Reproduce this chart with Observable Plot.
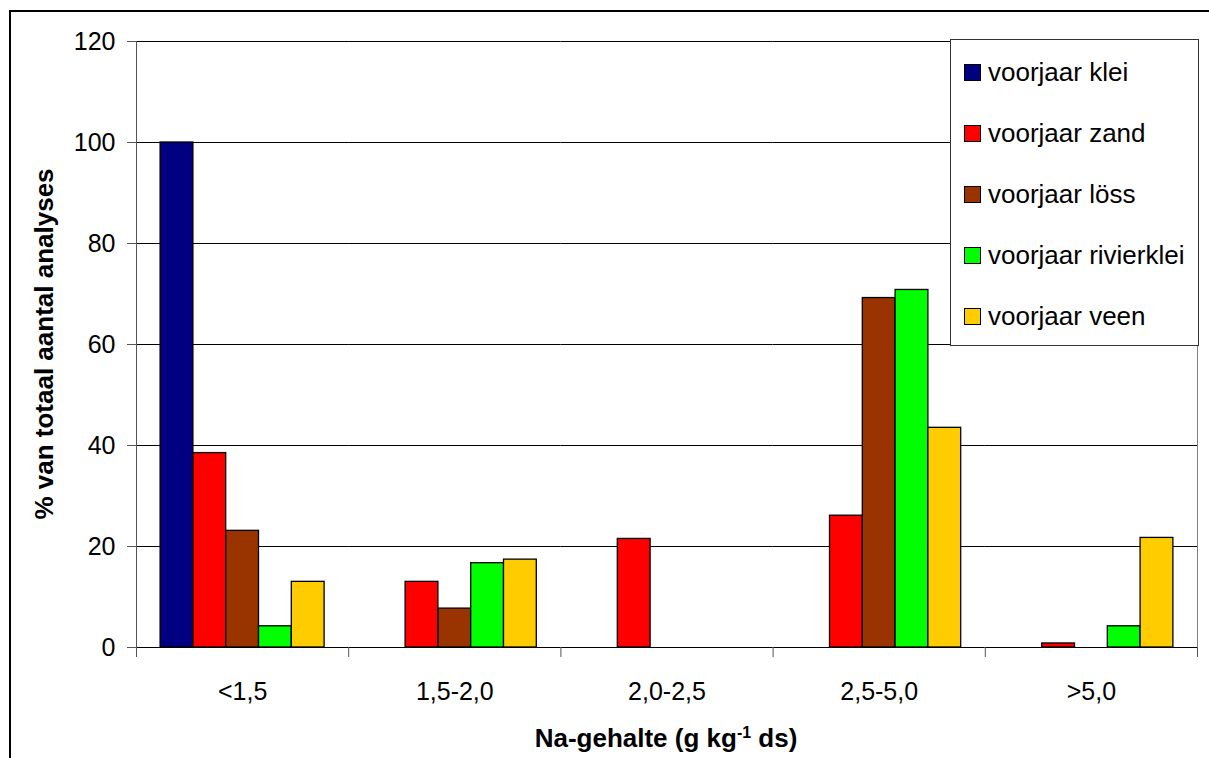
<!DOCTYPE html>
<html><head><meta charset="utf-8">
<script src="https://cdn.jsdelivr.net/npm/d3@7"></script>
<script src="https://cdn.jsdelivr.net/npm/@observablehq/plot@0.6"></script>
<style>
body{margin:0;background:#fff;overflow:hidden;font-family:"Liberation Sans",Arial,sans-serif;color:#000}
#wrap{position:relative;width:1209px;height:758px;overflow:hidden}
#border{position:absolute;left:9px;top:10px;width:1230px;height:780px;border:2px solid #000;box-sizing:border-box;pointer-events:none}
#ytitle{position:absolute;left:44px;top:344px;transform:translate(-50%,-50%) rotate(-90deg);white-space:nowrap;font-weight:bold;font-size:26px}
#xtitle{position:absolute;left:666px;top:738px;transform:translate(-50%,-50%);white-space:nowrap;font-weight:bold;font-size:26px}
#xtitle sup{font-size:16px;vertical-align:0.55em;line-height:0}
#legend{position:absolute;left:950px;top:39px;width:249px;height:307px;border:1px solid #333;background:#fff;box-sizing:border-box;padding-top:2px}
.item{height:61px;display:flex;align-items:center;padding-left:13px;font-size:26px;white-space:nowrap}
.sw{width:17px;height:17px;border:1px solid #000;box-sizing:border-box;margin-right:7px;flex:none}
</style></head>
<body>
<div id="wrap">
  <div id="chart"></div>
  <div id="ytitle">% van totaal aantal analyses</div>
  <div id="xtitle">Na-gehalte (g kg<sup>-1</sup> ds)</div>
  <div id="legend"></div>
  <div id="border"></div>
</div>
<script>
const categories = ["<1,5", "1,5-2,0", "2,0-2,5", "2,5-5,0", ">5,0"];
const series = ["voorjaar klei", "voorjaar zand", "voorjaar löss", "voorjaar rivierklei", "voorjaar veen"];
const colors = ["#000080", "#FF0000", "#993300", "#00FF00", "#FFCC00"];
const klei = [100, 0, 0, 0, 0];
const zand = [38.5, 13.0, 21.5, 26.1, 0.8];
const loss = [23.1, 7.7, 0, 69.2, 0];
const rivierklei = [4.2, 16.7, 0, 70.8, 4.2];
const veen = [13.0, 17.4, 0, 43.5, 21.7];
const yTicks = [0, 20, 40, 60, 80, 100, 120];

const values = [klei, zand, loss, rivierklei, veen];
const rows = [];
series.forEach((s, i) => categories.forEach((c, j) => {
  if (values[i][j] > 0) rows.push({series: s, cat: c, value: values[i][j]});
}));

const H = 758, MT = 41, MB = 111;
const chart = Plot.plot({
  width: 1209, height: H,
  marginLeft: 136, marginRight: 12, marginTop: MT, marginBottom: MB,
  style: {fontFamily: '"Liberation Sans", Arial, sans-serif', fontSize: "25px", color: "#000", background: "transparent"},
  fx: {domain: categories, padding: 0, round: false, label: null},
  x: {domain: series, paddingInner: 0, paddingOuter: 0.735, round: false, axis: null},
  y: {domain: [0, 120], axis: null},
  color: {domain: series, range: colors},
  marks: [
    Plot.ruleY(yTicks, {stroke: "#000", strokeWidth: 1}),
    Plot.frame({anchor: "right", facetAnchor: "right", stroke: "#808080"}),
    Plot.barY(rows, {fx: "cat", x: "series", y: "value", fill: "series", stroke: "#000", strokeWidth: 1.3}),
    Plot.frame({anchor: "left", facetAnchor: "left", insetBottom: -9, stroke: "#555"}),
    Plot.frame({anchor: "left", insetTop: H - MT - MB, insetBottom: -9, stroke: "#555"}),
    Plot.frame({anchor: "right", facetAnchor: "right", insetTop: H - MT - MB, insetBottom: -9, stroke: "#555"}),
    Plot.axisY(yTicks, {tickSize: 9, tickPadding: 12, fontSize: 25, label: null, stroke: "#555"}),
    Plot.axisFx({anchor: "bottom", tickSize: 0, tickPadding: 35, fontSize: 25, label: null})
  ]
});
document.getElementById("chart").appendChild(chart);

const legend = document.getElementById("legend");
series.forEach((s, i) => {
  const it = document.createElement("div");
  it.className = "item";
  const sw = document.createElement("span");
  sw.className = "sw";
  sw.style.background = colors[i];
  it.appendChild(sw);
  it.appendChild(document.createTextNode(s));
  legend.appendChild(it);
});
</script>
</body></html>
